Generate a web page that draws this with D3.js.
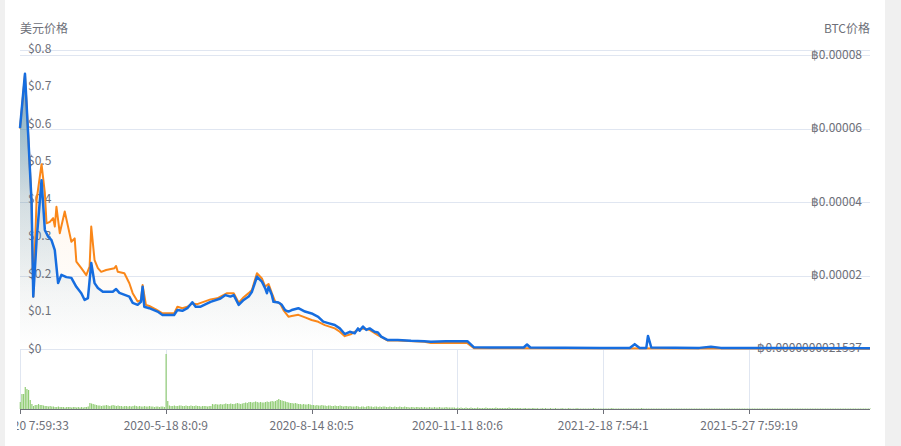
<!DOCTYPE html>
<html><head><meta charset="utf-8">
<script src="https://cdn.jsdelivr.net/npm/d3@7/dist/d3.min.js"></script>
<style>
html,body{margin:0;padding:0;background:#fff;}
svg{display:block;}
text{font-family:"Noto Sans CJK SC","Noto Sans",sans-serif;font-size:12px;fill:#6e7079;}
</style></head><body>
<svg id="c" width="901" height="446"></svg>
<script>
// ---- data ----
const usdDays = [0,3,5,7,8,10,13,15,17,19,21,23,25,28,31,34,37,39,41,43,45,47,50,56,58,60,66,68,71,73,74,75,78,83,86,93,95,98,101,104,106,109,115,121,124,127,129,132,135,138,140,143,146,148,149,150,152,153,156,158,160,162,164,168,172,176,180,183,186,190,193,196,199,202,204,205,207,209,211,214,216,218,222,228,236,244,248,257,270,274,284,304,306,308,350,368,371,374,378,379,381,410,417,423,513];
const usdPrice = [0.59,0.735,0.567,0.39,0.14,0.29,0.451,0.318,0.30,0.291,0.264,0.176,0.198,0.192,0.19,0.166,0.149,0.131,0.136,0.23,0.176,0.163,0.153,0.153,0.16,0.15,0.14,0.123,0.118,0.126,0.166,0.113,0.109,0.10,0.091,0.091,0.104,0.102,0.109,0.125,0.113,0.113,0.126,0.135,0.144,0.14,0.144,0.118,0.131,0.14,0.153,0.193,0.18,0.162,0.149,0.166,0.144,0.126,0.124,0.118,0.104,0.10,0.104,0.109,0.10,0.095,0.086,0.073,0.069,0.064,0.055,0.04,0.046,0.042,0.055,0.049,0.06,0.051,0.055,0.046,0.044,0.033,0.024,0.024,0.022,0.021,0.0195,0.021,0.021,0.0045,0.004,0.004,0.012,0.004,0.003,0.003,0.013,0.003,0.003,0.035,0.004,0.003,0.006,0.003,0.002];

const btcDays = [0,3,5,7,8,10,13,15,16,18,20,21,22,24,27,29,31,33,34,37,40,42,43,45,47,49,52,57,58,59,63,66,68,71,73,74,76,78,82,86,93,95,98,101,104,107,115,119,123,125,129,132,135,138,140,143,146,148,150,152,154,157,159,162,164,168,172,176,180,184,190,193,196,200,204,207,211,216,222,228,244,248,257,270,274,513];
const btcPrice = [6.0e-5,7.46e-5,5.78e-5,3.97e-5,1.42e-5,4.05e-5,5.03e-5,4.24e-5,3.42e-5,3.46e-5,3.56e-5,3.33e-5,3.87e-5,3.15e-5,3.74e-5,3.33e-5,2.92e-5,3.01e-5,2.38e-5,2.2e-5,2.01e-5,2.24e-5,3.33e-5,2.42e-5,2.2e-5,2.1e-5,2.15e-5,2.2e-5,2.26e-5,2.1e-5,2.06e-5,1.79e-5,1.52e-5,1.29e-5,1.33e-5,1.74e-5,1.2e-5,1.17e-5,1.08e-5,0.97e-5,0.97e-5,1.15e-5,1.11e-5,1.15e-5,1.24e-5,1.22e-5,1.35e-5,1.38e-5,1.47e-5,1.52e-5,1.52e-5,1.26e-5,1.41e-5,1.52e-5,1.61e-5,2.06e-5,1.92e-5,1.7e-5,1.77e-5,1.52e-5,1.29e-5,1.24e-5,1.06e-5,0.88e-5,0.9e-5,0.93e-5,0.86e-5,0.79e-5,0.74e-5,0.65e-5,0.56e-5,0.47e-5,0.35e-5,0.41e-5,0.52e-5,0.56e-5,0.52e-5,0.38e-5,0.23e-5,0.23e-5,0.2e-5,0.16e-5,0.16e-5,0.16e-5,0.02e-5,0.01e-5];

const volume = [
14,30,30,44,40,38,18,10,6,8,
8,10,8,8,7,6,6,5,6,5,
5,4,4,5,4,4,4,3,4,4,
4,3,4,4,3,4,3,4,3,4,4,5,
12,11,10,9,8,7,
7,6,7,7,8,7,6,7,8,7,6,7,6,
6,5,6,6,5,6,5,6,7,6,5,6,5,5,6,5,5,6,5,5,4,5,5,4,5,5,4,
110,16,
7,6,6,7,6,6,7,7,6,6,7,6,6,7,6,6,7,6,6,5,6,6,6,5,6,6,
10,9,10,9,9,10,9,10,11,10,10,11,10,10,11,12,11,10,11,12,
13,12,14,14,13,14,15,14,13,14,13,13,14,15,14,15,16,15,16,18,20,18,17,16,15,14,
13,12,12,11,12,11,10,10,9,10,9,9,10,9,
8,8,7,8,7,7,8,7,7,6,7,7,6,6,7,6,6,7,6,5,6,6,5,6,5,
5,5,6,5,4,5,5,4,5,6,5,5,4,5,5,4,5,4,5,5,4,4,5,4,4,5,4,4,5,4,
4,5,4,4,3,4,4,3,4,4,3,4,3,4,3,3,4,3,3,4,3,3,4,3,3,3,4,3,3,3,
3,3,2,3,2,3,2,2,3,2,2,3,2,2,2,3,2,2,2,2,3,2,2,2,2,2,3,2,2,2,2,2,2,2,3,2,2,2,2,2,
2,2,1,2,2,1,2,1,2,2,1,2,1,1,2,1,2,1,1,2,
1,1,2,1,1,1,2,1,1,1,2,1,1,1,1,2,1,1,1,1,
1,1,1,1,1,2,1,1,1,1,1,1,1,1,1,1,2,1,1,1,
1,1,1,1,1,1,1,1,1,1,1,1,1,1,2,1,1,1,1,1,
1,1,1,1,1,1,1,1,1,1,1,1,1,1,1,1,1,1,1,1,
1,1,1,1,1,1,1,1,1,1,1,1,1,1,1,1,1,1,1,1,
1,1,1,1,1,1,1,1,1,1,1,1,1,1,1,1,1,1,1,1,
1,1,1,1,1,1,1,1,1,1,1,1,1,1,1,1,1,1,1,1,
1,1,1,1,1,1,1,1,1,1,1,1,1,1,1,1,1,1,1,1,
1,1,1,1,1,1,1,1,1,1,1,1,1,1,1,1,1,1,1,1,
1,1,1,1,1,1,1,1,1,1,1,1,1
];

const leftTicks = [0,0.1,0.2,0.3,0.4,0.5,0.6,0.7,0.8];
const leftTickLabels = ["$0","$0.1","$0.2","$0.3","$0.4","$0.5","$0.6","$0.7","$0.8"];
const rightTicks = [0.0000000021537,0.00002,0.00004,0.00006,0.00008];
const rightTickLabels = ["฿0.0000000021537","฿0.00002","฿0.00004","฿0.00006","฿0.00008"];
const xTickIdx = [0,88,176,264,352,440];
const xTickLabels = ["2020-2-20 7:59:33","2020-5-18 8:0:9","2020-8-14 8:0:5","2020-11-11 8:0:6","2021-2-18 7:54:1","2021-5-27 7:59:19"];
const lastDay = 513;

// ---- drawing ----
const svg = d3.select("#c");
const W = 901, H = 446;
const L = 20, R = 870;
const x = d3.scaleLinear().domain([0, lastDay]).range([L, R]);
const yL = d3.scaleLinear().domain([0, 0.8]).range([349, 49.5]);
const yR = d3.scaleLinear().domain([0, 0.00008]).range([349, 55]);
const yV = d3.scaleLinear().domain([0, 120]).range([409, 349]);

// side strips
svg.append("rect").attr("x",0).attr("y",0).attr("width",5).attr("height",H).attr("fill","#f0f0f0");
svg.append("rect").attr("x",885).attr("y",0).attr("width",16).attr("height",H).attr("fill","#f0f0f0");

const defs = svg.append("defs");
const gb = defs.append("linearGradient").attr("id","gBlue").attr("gradientUnits","userSpaceOnUse")
  .attr("x1",0).attr("y1",yL(0.74)).attr("x2",0).attr("y2",yL(0));
gb.append("stop").attr("offset",0).attr("stop-color","rgb(30,115,165)").attr("stop-opacity",0.6);
gb.append("stop").attr("offset",0.45).attr("stop-color","rgb(30,115,165)").attr("stop-opacity",0.2);
gb.append("stop").attr("offset",0.8).attr("stop-color","rgb(30,115,165)").attr("stop-opacity",0.05);
gb.append("stop").attr("offset",1).attr("stop-color","rgb(30,115,165)").attr("stop-opacity",0.0);
const go = defs.append("linearGradient").attr("id","gOrange").attr("gradientUnits","userSpaceOnUse")
  .attr("x1",0).attr("y1",yR(7.5e-5)).attr("x2",0).attr("y2",yR(0));
go.append("stop").attr("offset",0).attr("stop-color","rgb(250,135,25)").attr("stop-opacity",0.12);
go.append("stop").attr("offset",1).attr("stop-color","rgb(250,135,25)").attr("stop-opacity",0.0);
defs.append("clipPath").attr("id","lblClip").append("rect").attr("x",17).attr("y",0).attr("width",868).attr("height",H);

const grid = "#e0e6f1";
rightTicks.forEach(v => {
  const yy = Math.round(yR(v)) + 0.5;
  svg.append("line").attr("x1",L).attr("x2",R).attr("y1",yy).attr("y2",yy).attr("stroke",grid);
});
svg.append("line").attr("x1",L).attr("x2",R).attr("y1",Math.round(yL(0.8))+0.5).attr("y2",Math.round(yL(0.8))+0.5).attr("stroke",grid);

xTickIdx.forEach(d => {
  const xx = Math.round(x(d)) + 0.5;
  svg.append("line").attr("x1",xx).attr("x2",xx).attr("y1",349).attr("y2",409).attr("stroke",grid);
});

svg.append("text").attr("x",20).attr("y",27).attr("dominant-baseline","central").text("美元价格");
svg.append("text").attr("x",870).attr("y",27).attr("dominant-baseline","central").attr("text-anchor","end").text("BTC价格");

leftTicks.forEach((v,i) => {
  svg.append("text").attr("x",28).attr("y",yL(v)-2).attr("dominant-baseline","central").text(leftTickLabels[i]);
});
rightTicks.forEach((v,i) => {
  svg.append("text").attr("x",862).attr("y",yR(v)-2).attr("dominant-baseline","central").attr("text-anchor","end").text(rightTickLabels[i]);
});

const bw = (x(1) - x(0)) * 0.72;
svg.append("g").selectAll("rect").data(volume).join("rect")
  .attr("x", (d,i) => x(i) - bw/2 + 0.3)
  .attr("y", d => yV(d))
  .attr("width", bw)
  .attr("height", d => yV(0) - yV(d))
  .attr("fill", "#91cc75");

const btcPts = btcDays.map((d,i) => [d, btcPrice[i]]);
const usdPts = usdDays.map((d,i) => [d, usdPrice[i]]);
svg.append("path").datum(btcPts)
  .attr("d", d3.area().x(d => x(d[0])).y0(yR(0)).y1(d => yR(d[1])))
  .attr("fill","url(#gOrange)");
svg.append("path").datum(usdPts)
  .attr("d", d3.area().x(d => x(d[0])).y0(yL(0)).y1(d => yL(d[1])))
  .attr("fill","url(#gBlue)");

svg.append("path").datum(btcPts)
  .attr("d", d3.line().x(d => x(d[0])).y(d => yR(d[1])))
  .attr("fill","none").attr("stroke","#fa8719").attr("stroke-width",2).attr("stroke-linejoin","round");
svg.append("path").datum(usdPts)
  .attr("d", d3.line().x(d => x(d[0])).y(d => yL(d[1])))
  .attr("fill","none").attr("stroke","#166ddf").attr("stroke-width",2.5).attr("stroke-linejoin","round");

svg.append("line").attr("x1",L).attr("x2",R).attr("y1",409.5).attr("y2",409.5).attr("stroke","#6e7079");
const xg = svg.append("g").attr("clip-path","url(#lblClip)");
xTickIdx.forEach((d,i) => {
  const xx = Math.round(x(d)) + 0.5;
  svg.append("line").attr("x1",xx).attr("x2",xx).attr("y1",409.5).attr("y2",414).attr("stroke","#6e7079");
  xg.append("text").attr("x",x(d)).attr("y",424).attr("dominant-baseline","central").attr("text-anchor","middle").text(xTickLabels[i]);
});
</script>
</body></html>
